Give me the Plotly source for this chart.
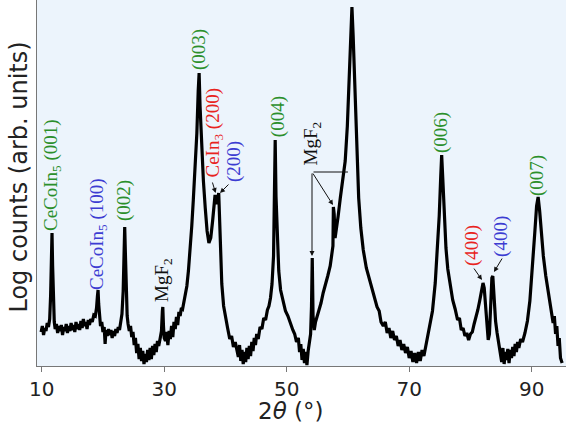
import plotly.graph_objects as go

# ---- data (2theta in degrees, log counts in arbitrary units) ----
two_theta = [
    9.9, 10.1, 10.3, 10.5, 10.7, 10.9, 11.1, 11.3, 11.45, 11.6, 11.68, 11.78, 11.9, 12.05, 12.2, 12.4, 12.6, 12.8,
    13.0, 13.2, 13.4, 13.6, 13.8, 14.0, 14.2, 14.4, 14.6, 14.8, 15.0, 15.2, 15.4, 15.6, 15.8, 16.0, 16.2, 16.4,
    16.6, 16.8, 17.0, 17.2, 17.4, 17.6, 17.8, 18.0, 18.25, 18.5, 18.75, 18.95, 19.1, 19.2, 19.3, 19.45, 19.6, 19.8,
    20.0, 20.2, 20.35, 20.5, 20.7, 20.9, 21.1, 21.3, 21.5, 21.7, 21.9, 22.1, 22.3, 22.5, 22.7, 22.9, 23.1, 23.3,
    23.45, 23.55, 23.65, 23.8, 23.95, 24.1, 24.3, 24.5, 24.7, 24.9, 25.1, 25.3, 25.5, 25.7, 25.9, 26.1, 26.3, 26.5,
    26.7, 26.9, 27.1, 27.3, 27.5, 27.7, 27.9, 28.1, 28.3, 28.5, 28.7, 28.9, 29.1, 29.35, 29.55, 29.7, 29.77, 29.88,
    30.0, 30.2, 30.4, 30.6, 30.8, 31.0, 31.2, 31.4, 31.6, 31.8, 32.0, 32.2, 32.4, 32.6, 32.8, 33.0, 33.2, 33.45,
    33.7, 33.95, 34.25, 34.5, 34.75, 35.05, 35.33, 35.55, 35.7, 35.85, 36.1, 36.4, 36.7, 37.0, 37.3, 37.6, 37.9, 38.1,
    38.3, 38.5, 38.7, 38.9, 39.05, 39.15, 39.4, 39.7, 40.0, 40.35, 40.7, 41.0, 41.3, 41.6, 41.9, 42.1, 42.3, 42.5,
    42.7, 42.9, 43.1, 43.3, 43.5, 43.7, 43.9, 44.1, 44.3, 44.5, 44.7, 44.9, 45.1, 45.35, 45.65, 45.95, 46.25, 46.55,
    46.85, 47.1, 47.35, 47.6, 47.85, 48.0, 48.12, 48.25, 48.45, 48.7, 49.0, 49.4, 49.8, 50.2, 50.6, 51.0, 51.3, 51.6,
    51.9, 52.1, 52.3, 52.5, 52.7, 52.9, 53.1, 53.3, 53.5, 53.7, 53.9, 54.05, 54.17, 54.3, 54.5, 54.7, 54.95, 55.3,
    55.6, 55.95, 56.3, 56.7, 57.1, 57.4, 57.55, 57.62, 57.75, 57.9, 58.1, 58.4, 58.75, 59.1, 59.55, 59.9, 60.2, 60.45,
    60.65, 60.85, 61.1, 61.4, 61.75, 62.1, 62.5, 63.0, 63.65, 64.2, 64.75, 65.1, 65.4, 65.77, 66.1, 66.4, 66.7, 67.0,
    67.3, 67.6, 67.9, 68.2, 68.5, 68.8, 69.1, 69.4, 69.7, 70.0, 70.3, 70.6, 70.9, 71.2, 71.5, 71.8, 72.1, 72.4,
    72.7, 73.0, 73.4, 73.8, 74.25, 74.6, 74.9, 75.15, 75.3, 75.5, 75.75, 76.0, 76.3, 76.7, 77.1, 77.5, 77.9, 78.2,
    78.5, 78.8, 79.1, 79.4, 79.7, 80.0, 80.3, 80.6, 80.9, 81.2, 81.5, 81.8, 82.05, 82.25, 82.5, 82.7, 82.9, 83.1,
    83.3, 83.5, 83.65, 83.85, 84.1, 84.35, 84.6, 84.9, 85.1, 85.3, 85.5, 85.7, 85.9, 86.1, 86.3, 86.5, 86.7, 86.9,
    87.1, 87.3, 87.5, 87.7, 87.9, 88.2, 88.5, 88.9, 89.3, 89.7, 90.1, 90.5, 90.8, 91.05, 91.3, 91.6, 91.9, 92.3,
    92.7, 93.0, 93.3, 93.5, 93.7, 93.9, 94.1, 94.3, 94.5, 94.7, 94.97,
]
log_counts = [
    34, 40, 31, 38, 35, 43, 39, 47, 70, 125, 133, 100, 60, 44, 37, 42, 33, 40,
    35, 41, 31, 39, 35, 42, 33, 40, 35, 43, 36, 41, 34, 44, 37, 42, 36, 45,
    38, 47, 40, 44, 37, 46, 41, 47, 44, 51, 50, 58, 70, 76, 62, 45, 40, 44,
    34, 39, 22, 36, 30, 37, 31, 36, 28, 35, 30, 37, 33, 39, 36, 44, 52, 75,
    125, 139, 115, 70, 50, 42, 35, 40, 29, 34, 21, 28, 13, 22, 7, 18, 5, 15,
    2, 12, 4, 16, 6, 18, 7, 20, 11, 22, 14, 25, 20, 28, 35, 55, 59, 40,
    28, 25, 34, 21, 35, 27, 40, 29, 44, 37, 49, 41, 54, 50, 58, 57, 64, 70,
    80, 95, 116, 140, 166, 200, 233, 275, 293, 260, 218, 185, 158, 135, 123, 128, 145, 162,
    171, 162, 166, 173, 140, 112, 82, 60, 48, 38, 27, 30, 19, 24, 15, 9, 21, 5,
    16, 2, 14, 4, 18, 7, 20, 10, 24, 15, 28, 21, 32, 27, 39, 37, 48, 46,
    56, 60, 68, 82, 110, 160, 226, 170, 125, 95, 76, 64, 55, 50, 42, 36, 32, 24,
    28, 14, 22, 6, 17, 3, 14, 1, 15, 24, 32, 60, 108, 50, 36, 44, 49, 56,
    63, 73, 80, 90, 100, 112, 120, 159, 152, 128, 135, 150, 168, 185, 205, 240, 290, 335,
    359, 330, 280, 220, 168, 138, 116, 98, 83, 70, 59, 55, 44, 40, 44, 33, 38, 28,
    35, 26, 30, 20, 26, 16, 22, 13, 19, 8, 15, 4, 13, 3, 14, 5, 16, 10,
    20, 26, 39, 55, 83, 115, 150, 190, 211, 185, 145, 118, 97, 80, 66, 57, 46, 48,
    36, 38, 30, 33, 26, 32, 34, 42, 48, 56, 65, 76, 83, 78, 55, 35, 26, 32,
    60, 88, 90, 70, 45, 33, 22, 13, 4, 18, 2, 14, 6, 17, 3, 16, 8, 19,
    10, 22, 14, 24, 18, 27, 24, 33, 45, 65, 95, 133, 160, 169, 155, 130, 110, 90,
    75, 62, 48, 43, 50, 32, 40, 20, 28, 8, 3,
]
x_ticks = [10, 30, 50, 70, 90]

# peak labels: text, colour, label centre (2theta, counts)
label_texts = ["CeCoIn<sub>5</sub> (001)", "CeCoIn<sub>5</sub> (100)", "(002)", "MgF<sub>2</sub>", "(003)",
               "CeIn<sub>3</sub> (200)", "(200)", "(004)", "MgF<sub>2</sub>", "(006)", "(400)", "(400)", "(007)"]
label_colors = ["green", "blue", "green", "black", "green", "red", "blue", "green", "black",
                "green", "red", "blue", "green"]
label_x = [11.68, 19.19, 23.43, 29.8, 35.68, 38.05, 41.39, 48.6, 54.2, 75.2, 80.25, 84.98, 90.86]
label_y = [191, 132, 166, 86, 316, 233, 205, 249, 223, 233, 121, 130, 191]

# arrows: tail (x, y) -> head (x, y), with head style
arrow_tail_x = [37.8, 40.74, 54.13, 54.13, 54.13, 80.41, 85.31]
arrow_tail_y = [185, 183, 194, 194, 194, 99, 109]
arrow_head_x = [38.4, 39.11, 54.13, 57.56, 60.0, 81.88, 83.84]
arrow_head_y = [173, 173, 110, 161, 194, 86, 94]
arrow_heads = [2, 2, 2, 2, 0, 2, 2]

palette = {"green": "#2b8f2b", "blue": "#3c3cd2", "red": "#e8231e", "black": "#111111"}

fig = go.Figure()
fig.add_trace(go.Scatter(x=two_theta, y=log_counts, mode="lines",
                         line=dict(color="black", width=3.2), showlegend=False))

for t, c, x, y in zip(label_texts, label_colors, label_x, label_y):
    fig.add_annotation(x=x, y=y, xref="x", yref="y", text=t, showarrow=False, textangle=-90,
                       font=dict(family="Liberation Serif", size=19, color=palette[c]),
                       xanchor="center", yanchor="middle")

for tx, ty, hx, hy, hd in zip(arrow_tail_x, arrow_tail_y, arrow_head_x, arrow_head_y, arrow_heads):
    fig.add_annotation(x=hx, y=hy, ax=tx, ay=ty, xref="x", yref="y", axref="x", ayref="y",
                       text="", showarrow=True, arrowhead=hd, arrowsize=1.0, arrowwidth=1,
                       arrowcolor="#111111", standoff=0, startstandoff=0)

fig.add_annotation(x=(19 - 37) / 529, y=0.515, xref="paper", yref="paper",
                   text="Log counts (arb. units)", showarrow=False, textangle=-90,
                   xanchor="center", yanchor="middle",
                   font=dict(family="DejaVu Sans", size=24, color="#222222"))
fig.add_annotation(x=(290 - 37) / 529, y=(366 - 411) / 366, xref="paper", yref="paper",
                   text="2<i>θ</i> (°)", showarrow=False, xanchor="center", yanchor="middle",
                   font=dict(family="DejaVu Sans", size=23, color="#222222"))

fig.update_xaxes(range=[9.23, 95.6], tickvals=x_ticks, ticks="outside", ticklen=5, tickcolor="#777777",
                 showline=True, linecolor="#777777", linewidth=1, showgrid=False, zeroline=False,
                 tickfont=dict(family="DejaVu Sans", size=20, color="#222222"))
fig.update_yaxes(range=[0, 366], showticklabels=False, ticks="", showline=True, linecolor="#777777",
                 linewidth=1, showgrid=False, zeroline=False)
fig.update_layout(width=566, height=430, margin=dict(l=37, r=0, t=0, b=64),
                  plot_bgcolor="#ecf4fc", paper_bgcolor="white")

fig.write_html("out.html", config={"displayModeBar": False},
               post_script="document.body.style.margin='0';document.body.style.overflow='hidden';")
